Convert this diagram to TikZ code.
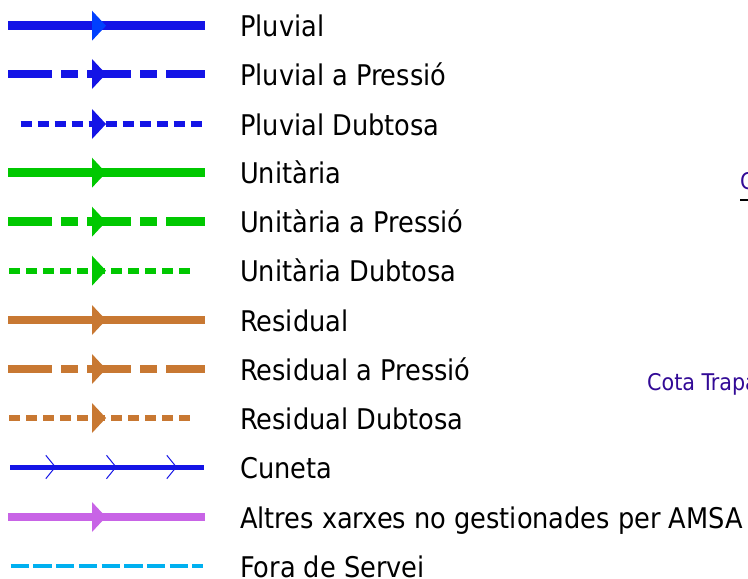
\documentclass[tikz,border=0pt]{standalone}
\usepackage{fontspec}
\usetikzlibrary{calc}
\setmainfont{DejaVu Sans}
\newfontfamily\condfont{DejaVu Sans Condensed}
\definecolor{pluv}{RGB}{20,20,230}
\definecolor{pluvtip}{RGB}{0,64,255}
\definecolor{unit}{RGB}{0,200,0}
\definecolor{resid}{RGB}{200,120,50}
\definecolor{altres}{RGB}{200,100,230}
\definecolor{fora}{RGB}{0,176,240}
\definecolor{cota}{RGB}{50,10,150}
\begin{document}
\begin{tikzpicture}[x=1pt,y=-1pt,
  solidline/.style={line width=8.5pt,line cap=butt},
  pressline/.style={line width=8.5pt,line cap=butt,dash pattern=on 44pt off 9pt on 17pt off 9pt},
  dubtline/.style={line width=6pt,line cap=butt,dash pattern=on 11pt off 6pt},
  label/.style={anchor=base west,inner sep=0pt,font=\condfont\fontsize{28.5}{32}\selectfont},
  cotalabel/.style={anchor=base west,inner sep=0pt,text=cota,font=\condfont\fontsize{23}{27}\selectfont},
  chev/.style={draw=pluv,line width=1pt}]
\useasboundingbox (0,0) rectangle (748,579);
\begin{scope}
\clip (0,0) rectangle (748,579);
% row y positions
\foreach \n/\y in {1/25.7,2/74,3/124,4/172.7,5/221.7,6/270.7,7/320,8/369,9/418,10/467,11/517,12/566}{
  \coordinate (L\n) at (8,\y);
  \coordinate (R\n) at (205,\y);
  \coordinate (M\n) at (92,\y);
  \coordinate (T\n) at (240,\y+11);
}
\newcommand{\flowtip}[2]{\fill[#2] ($(M#1)+(0,-15)$) -- ($(M#1)+(14,0)$) -- ($(M#1)+(0,15)$) -- cycle;}
% Pluvial
\draw[solidline,pluv] (L1) -- (R1);
\flowtip{1}{pluvtip}
\draw[pressline,pluv] (L2) -- (R2);
\flowtip{2}{pluv}
\draw[dubtline,pluv] ([xshift=12.7pt]L3) -- ([xshift=-1pt]R3);
\flowtip{3}{pluv}
% Unitaria
\draw[solidline,unit] (L4) -- (R4);
\flowtip{4}{unit}
\draw[pressline,unit] (L5) -- (R5);
\flowtip{5}{unit}
\draw[dubtline,unit] ([xshift=1pt]L6) -- ([xshift=-12pt]R6);
\flowtip{6}{unit}
% Residual
\draw[solidline,resid] (L7) -- (R7);
\flowtip{7}{resid}
\draw[pressline,resid] (L8) -- (R8);
\flowtip{8}{resid}
\draw[dubtline,resid] ([xshift=1pt]L9) -- ([xshift=-12pt]R9);
\flowtip{9}{resid}
% Cuneta
\draw[pluv,line width=5pt] ([xshift=2pt]L10) -- ([xshift=-1pt]R10);
\foreach \cx in {55.3,116,176.3}{
  \draw[chev] (\cx-9.5,467-11.7) -- (\cx,467) -- (\cx-9.5,467+11.7);
}
% Altres
\draw[solidline,altres] (L11) -- (R11);
\flowtip{11}{altres}
% Fora de servei
\draw[fora,line width=3.5pt,dash pattern=on 18.3pt off 4.4pt] ([xshift=2.7pt]L12) -- ([xshift=-2pt]R12);
% labels
\node[label] (t1) at (T1) {Pluvial};
\node[label] (t2) at (T2) {Pluvial a Pressió};
\node[label] (t3) at (T3) {Pluvial Dubtosa};
\node[label] (t4) at (T4) {Unitària};
\node[label] (t5) at (T5) {Unitària a Pressió};
\node[label] (t6) at (T6) {Unitària Dubtosa};
\node[label] (t7) at (T7) {Residual};
\node[label] (t8) at (T8) {Residual a Pressió};
\node[label] (t9) at (T9) {Residual Dubtosa};
\node[label] (t10) at (T10) {Cuneta};
\node[label] (t11) at (T11) {Altres xarxes no gestionades per AMSA};
\node[label] (t12) at (T12) {Fora de Servei};
% clipped texts on the right
\node[cotalabel] (c1) at (740,189) {Cota};
\draw[black,line width=1.5pt] (740,200) -- (748,200);
\node[cotalabel] (c2) at (647,390.5) {Cota Trapa};
\end{scope}
\end{tikzpicture}
\end{document}
